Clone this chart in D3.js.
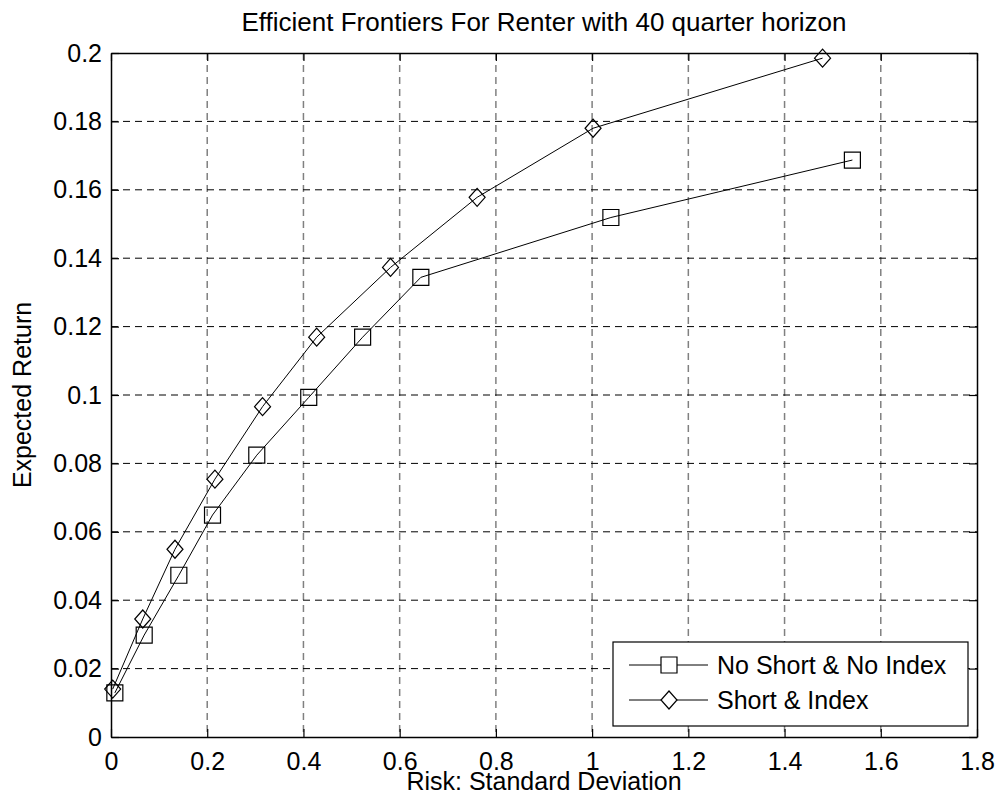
<!DOCTYPE html>
<html>
<head>
<meta charset="utf-8">
<script src="https://cdn.jsdelivr.net/npm/d3@7"></script>
<style>
  body { margin: 0; background: #fff; }
  text { font-family: Arial, "Liberation Sans", Helvetica, sans-serif; fill: #000; }
</style>
</head>
<body>
<div id="chart"></div>
<script>
// Data (risk = std dev, return = expected return)
const noShortRisk   = [0.008, 0.069, 0.141, 0.211, 0.303, 0.411, 0.523, 0.644, 1.039, 1.541];
const noShortReturn = [0.0129, 0.0298, 0.0473, 0.0649, 0.0824, 0.0993, 0.1169, 0.1344, 0.1519, 0.1687];
const shortRisk     = [0.0035, 0.066, 0.133, 0.216, 0.315, 0.4275, 0.581, 0.761, 1.002, 1.479];
const shortReturn   = [0.0140, 0.0345, 0.0549, 0.0754, 0.0966, 0.1169, 0.1373, 0.1578, 0.178, 0.1985];

const seriesNames = ["No Short & No Index", "Short & Index"];
const xTicks = [0, 0.2, 0.4, 0.6, 0.8, 1, 1.2, 1.4, 1.6, 1.8];
const yTicks = [0, 0.02, 0.04, 0.06, 0.08, 0.1, 0.12, 0.14, 0.16, 0.18, 0.2];

// Set up dimensions
const W = 1003, H = 808;
const plot = {left: 111, right: 977, top: 53, bottom: 737};

const svg = d3.select("#chart")
  .append("svg")
  .attr("width", W)
  .attr("height", H);

const x = d3.scaleLinear().domain([0, 1.8]).range([plot.left, plot.right]);
const y = d3.scaleLinear().domain([0, 0.2]).range([plot.bottom, plot.top]);

// Grid (dashed)
svg.append("g")
  .selectAll("line")
  .data(xTicks.slice(1, -1))
  .join("line")
  .attr("x1", d => x(d)).attr("x2", d => x(d))
  .attr("y1", plot.top).attr("y2", plot.bottom)
  .attr("stroke", "#808080")
  .attr("stroke-width", 1.5)
  .attr("stroke-dasharray", "7,5");

svg.append("g")
  .selectAll("line")
  .data(yTicks.slice(1, -1))
  .join("line")
  .attr("x1", plot.left).attr("x2", plot.right)
  .attr("y1", d => y(d)).attr("y2", d => y(d))
  .attr("stroke", "#000")
  .attr("stroke-width", 1)
  .attr("stroke-dasharray", "7,5");

// Axes, ticks pointing inward on all four sides
const fmt = d => String(d);
const styleAxis = g => {
  g.selectAll(".domain").attr("stroke", "#000").attr("stroke-width", 1.5);
  g.selectAll(".tick line").attr("stroke", "#000").attr("stroke-width", 1.2);
  g.selectAll("text").attr("font-size", 25).attr("font-family", "Arial, 'Liberation Sans', sans-serif");
};

svg.append("g")
  .attr("transform", `translate(0,${plot.bottom})`)
  .call(d3.axisBottom(x).tickValues(xTicks).tickFormat(fmt).tickSize(-8).tickSizeOuter(0).tickPadding(15))
  .call(styleAxis);

svg.append("g")
  .attr("transform", `translate(0,${plot.top})`)
  .call(d3.axisTop(x).tickValues(xTicks).tickFormat("").tickSize(-8).tickSizeOuter(0))
  .call(styleAxis);

svg.append("g")
  .attr("transform", `translate(${plot.left},0)`)
  .call(d3.axisLeft(y).tickValues(yTicks).tickFormat(fmt).tickSize(-8).tickSizeOuter(0).tickPadding(9))
  .call(styleAxis);

svg.append("g")
  .attr("transform", `translate(${plot.right},0)`)
  .call(d3.axisRight(y).tickValues(yTicks).tickFormat("").tickSize(-8).tickSizeOuter(0))
  .call(styleAxis);

// Marker shapes
const squarePath = s => `M${-s/2},${-s/2}h${s}v${s}h${-s}Z`;
const diamondPath = (w, h) => `M0,${-h/2}L${w/2},0L0,${h/2}L${-w/2},0Z`;
const markers = [squarePath(16), diamondPath(16, 18)];

const series = [
  d3.zip(noShortRisk, noShortReturn),
  d3.zip(shortRisk, shortReturn)
];

const line = d3.line().x(d => x(d[0])).y(d => y(d[1]));

series.forEach((pts, i) => {
  svg.append("path")
    .datum(pts)
    .attr("d", line)
    .attr("fill", "none")
    .attr("stroke", "#000")
    .attr("stroke-width", 1);

  svg.append("g")
    .selectAll("path")
    .data(pts)
    .join("path")
    .attr("transform", d => `translate(${x(d[0])},${y(d[1])})`)
    .attr("d", markers[i])
    .attr("fill", "none")
    .attr("stroke", "#000")
    .attr("stroke-width", 1.2);
});

// Title and axis labels
svg.append("text")
  .attr("x", (plot.left + plot.right) / 2)
  .attr("y", 31)
  .attr("text-anchor", "middle")
  .attr("font-size", 26)
  .text("Efficient Frontiers For Renter with 40 quarter horizon");

svg.append("text")
  .attr("x", (plot.left + plot.right) / 2)
  .attr("y", 790)
  .attr("text-anchor", "middle")
  .attr("font-size", 25)
  .text("Risk: Standard Deviation");

svg.append("text")
  .attr("transform", `translate(31,${(plot.top + plot.bottom) / 2}) rotate(-90)`)
  .attr("text-anchor", "middle")
  .attr("font-size", 25)
  .text("Expected Return");

// Legend
const legend = svg.append("g").attr("transform", "translate(613,642)");

legend.append("rect")
  .attr("width", 355)
  .attr("height", 84)
  .attr("fill", "#fff")
  .attr("stroke", "#000")
  .attr("stroke-width", 1.2);

const legendRow = legend.selectAll("g.row")
  .data(seriesNames)
  .join("g")
  .attr("class", "row")
  .attr("transform", (_, i) => `translate(0,${23 + i * 35})`);

legendRow.append("line")
  .attr("x1", 16).attr("x2", 95)
  .attr("stroke", "#000").attr("stroke-width", 1);

legendRow.append("path")
  .attr("transform", "translate(56,0)")
  .attr("d", (_, i) => markers[i])
  .attr("fill", "#fff")
  .attr("stroke", "#000")
  .attr("stroke-width", 1.2);

legendRow.append("text")
  .attr("x", 104)
  .attr("y", 9)
  .attr("font-size", 25)
  .text(d => d);
</script>
</body>
</html>
